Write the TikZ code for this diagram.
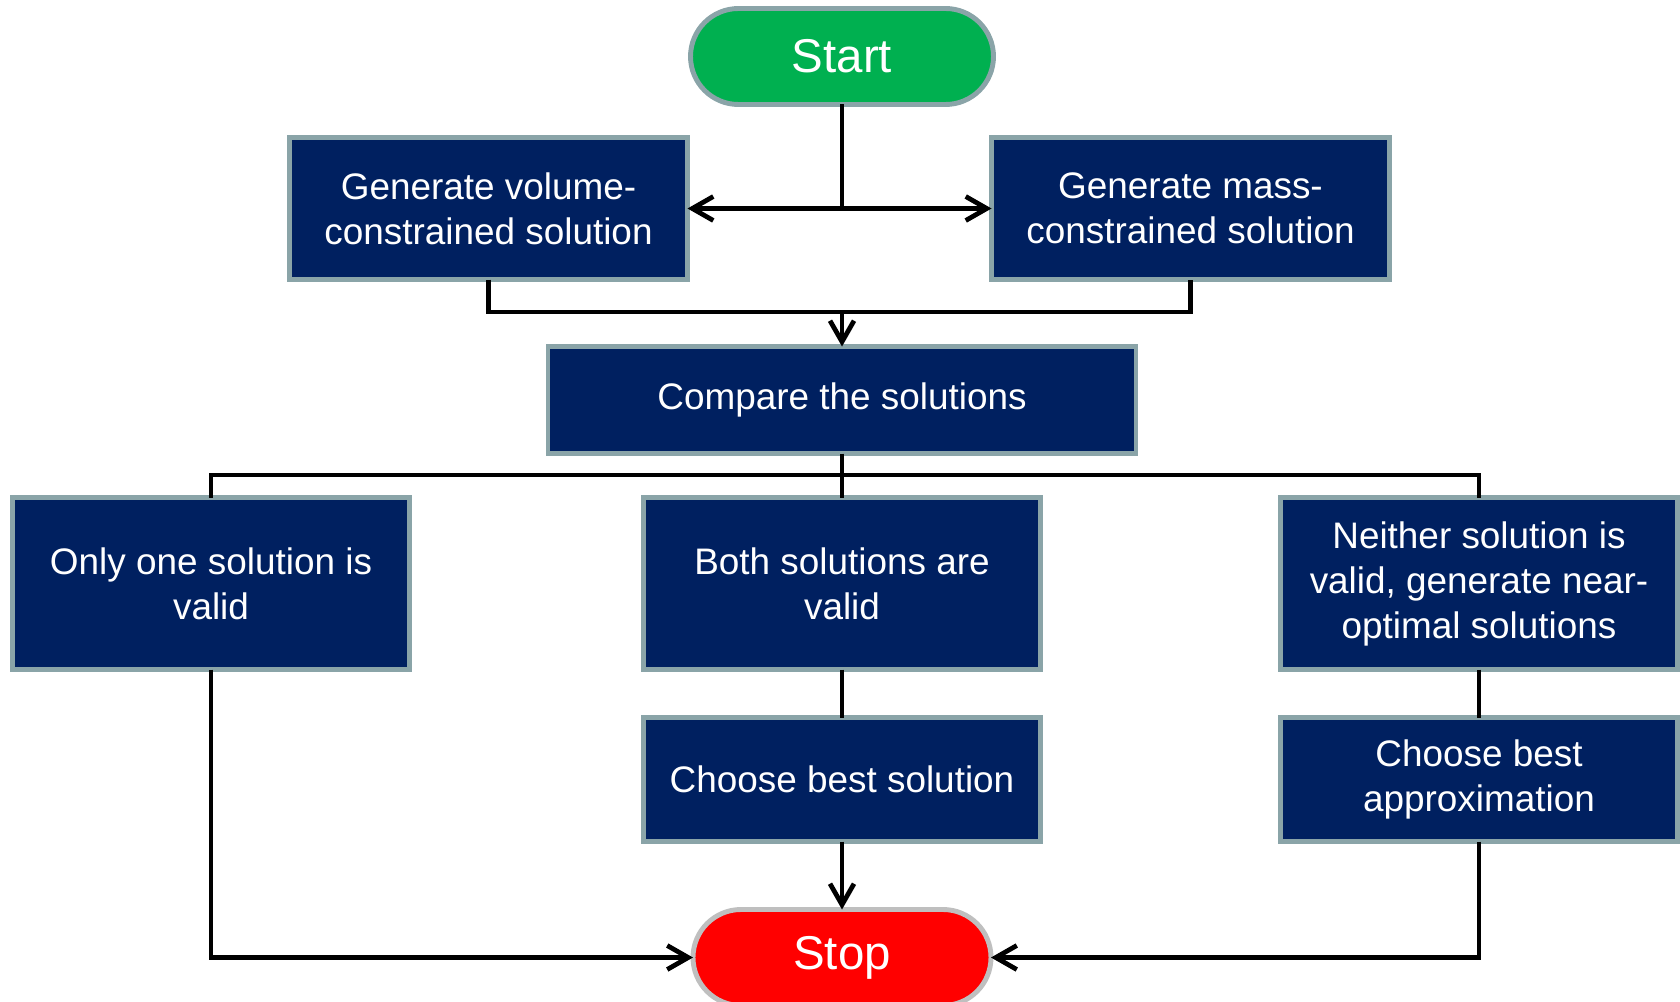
\documentclass[tikz,border=0pt]{standalone}
\usepackage{fontspec}
\setmainfont{Liberation Sans}
\usepackage{xcolor}
\usepackage{tikz}
\usetikzlibrary{positioning,arrows.meta}
\definecolor{boxnavy}{HTML}{002060}
\definecolor{boxedge}{HTML}{8AA4A8}
\definecolor{startgreen}{HTML}{00B050}
\definecolor{stopred}{HTML}{FF0000}
\definecolor{stopedge}{HTML}{BFBFBF}
\begin{document}
\begin{tikzpicture}[font=\fontsize{10.5}{12.8}\selectfont,
	stepbox/.style={draw=boxedge, line width=1.4pt, outer sep=0pt, fill=boxnavy, text=white, align=center, minimum width=3.97cm, inner sep=2pt},
	term/.style={draw=boxedge, line width=1.4pt, outer sep=0pt, text=white, minimum width=3.03cm, minimum height=0.96cm, rounded corners=4.8mm, font=\fontsize{13.5}{16}\selectfont},
	flow/.style={line width=1.35pt, black},
	arr/.style={flow, -{Straight Barb[length=2.1mm,width=2.4mm]}}]
		\useasboundingbox (0,0) rectangle (16.8,-10.02);
		\node[term, fill=startgreen] (start) at (8.42,-0.565) {Start};
		\node[stepbox, minimum width=3.98cm, minimum height=1.42cm, below=0.33cm of start, xshift=-3.535cm] (vol) {Generate volume-\\constrained solution};
		\node[stepbox, minimum width=3.98cm, minimum height=1.42cm, below=0.33cm of start, xshift=3.485cm] (mass) {Generate mass-\\constrained solution};
		\node[stepbox, minimum width=5.88cm, minimum height=1.07cm, below=2.42cm of start] (compare) {Compare the solutions};
		\node[stepbox, minimum height=1.72cm, below=0.44cm of compare] (both) {Both solutions are\\valid};
		\node[stepbox, minimum height=1.72cm, left=2.34cm of both] (only) {Only one solution is\\valid};
		\node[stepbox, minimum height=1.72cm, right=2.40cm of both] (neither) {Neither solution is\\valid, generate near-\\optimal solutions};
		\node[stepbox, minimum height=1.24cm, below=0.48cm of both] (bestsol) {Choose best solution};
		\node[stepbox, minimum height=1.24cm, below=0.48cm of neither] (bestapx) {Choose best\\approximation};
		\node[term, fill=stopred, draw=stopedge, minimum width=2.98cm, below=0.68cm of bestsol] (stop) {Stop};
		\draw[flow] (start.south) -- (start.south |- vol.east) coordinate (fork);
		\draw[arr] (fork) -- (vol.east);
		\draw[arr] (fork) -- (mass.west);
		\draw[flow] (vol.south) -- ++(0,-0.325) coordinate (join) -| (mass.south);
		\draw[arr] (join -| compare.north) -- (compare.north);
		\draw[flow] (compare.south) -- ++(0,-0.215) coordinate (branch);
		\draw[flow] (only.north) |- (branch) -| (neither.north);
		\draw[flow] (branch) -- (both.north);
		\draw[flow] (both.south) -- (bestsol.north);
		\draw[flow] (neither.south) -- (bestapx.north);
		\draw[arr] (bestsol.south) -- (stop.north);
		\draw[arr] (only.south) |- (stop.west);
		\draw[arr] (bestapx.south) |- (stop.east);
	\end{tikzpicture}
\end{document}
